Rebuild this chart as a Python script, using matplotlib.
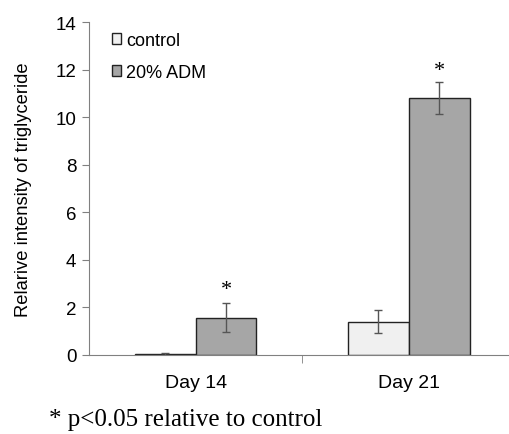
import numpy as np
import matplotlib.pyplot as plt

# datos
dias = ["Day 14", "Day 21"]
control = [0.03, 1.40]
control_err = [0.05, 0.48]
adm = [1.57, 10.81]
adm_err = [0.60, 0.67]
estrellas = [2.75, 11.95]

plt.rcParams['font.family'] = ['Liberation Sans', 'DejaVu Sans']

fig = plt.figure(figsize=(5.09, 4.35), dpi=100)
ax = fig.add_axes([89/509, 79/435, 419/509, 333/435])

x = np.arange(len(dias))
w = 0.285
gris = "#808080"
ax.bar(x - w/2, control, w, color="#f0f0f0", edgecolor="#222222", linewidth=1, label="control")
ax.bar(x + w/2, adm, w, color="#a6a6a6", edgecolor="#222222", linewidth=1, label="20% ADM")
ax.errorbar(x - w/2, control, yerr=control_err, fmt="none", ecolor="#555555", elinewidth=1, capsize=3)
ax.errorbar(x + w/2, adm, yerr=adm_err, fmt="none", ecolor="#555555", elinewidth=1, capsize=3)
for xi, s in zip(x + w/2, estrellas):
    ax.text(xi, s, "*", ha="center", va="center", fontsize=16, family="Liberation Serif")

ax.set_xlim(-0.5, 1.465)
ax.set_ylim(0, 14)
ax.set_yticks(range(0, 15, 2))
ax.set_xticks(x)
ax.set_xticklabels(dias, fontsize=14)
ax.set_xticks([0.5], minor=True)
ax.tick_params(axis="x", which="major", length=0, pad=14)
ax.tick_params(axis="x", which="minor", length=6, color=gris)
ax.tick_params(axis="y", labelsize=13.5, length=5, color=gris, pad=4)
for lado in ["top", "right"]:
    ax.spines[lado].set_visible(False)
ax.spines["left"].set_color(gris)
ax.spines["bottom"].set_color(gris)
ax.set_ylabel("Relarive intensity of triglyceride", fontsize=13.2, labelpad=17)

ax.legend(loc="upper left", bbox_to_anchor=(0.015, 1.02), frameon=False, fontsize=13,
          handlelength=0.55, handleheight=0.55, handletextpad=0.25, labelspacing=0.85)

fig.text(49/509, 1 - 420/435, "* p<0.05 relative to control", fontsize=18,
         family="Liberation Serif", va="center")

plt.savefig("out.png", dpi=100)
